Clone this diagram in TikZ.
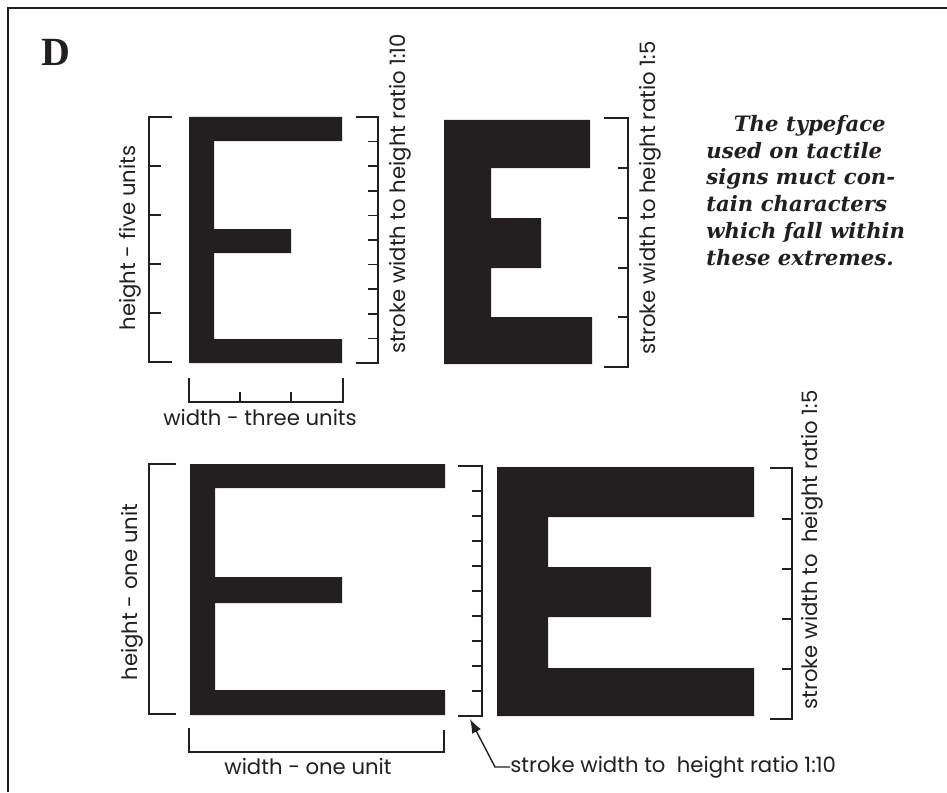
\documentclass[tikz,border=0pt]{standalone}
\usepackage{fontspec}
\usepackage{xcolor}
\usepackage{tikz}
\usetikzlibrary{arrows.meta}
\newfontfamily\labelfont{Poppins}
\newfontfamily\notefont{DejaVu Serif}
\newfontfamily\headfont{Liberation Serif}
\definecolor{ink}{HTML}{231F20}

\begin{document}
\begin{tikzpicture}[
                >={Latex[length=7pt, width=5pt]},
                x=0.5pt, y=-0.5pt, % Pixelraster des Originals
                glyph/.style={fill=ink},
                bracket/.style={draw=ink, line width=0.9pt},
                tick/.style={draw=ink, line width=0.8pt},
                label/.style={font=\labelfont\fontsize{10.6}{12}\selectfont, text=ink, inner sep=0pt},
                vlabel/.style={label, rotate=90},
                note/.style={font=\notefont\bfseries\itshape\fontsize{10.6}{13.35}\selectfont, text=ink, align=left, inner sep=0pt, anchor=north west}
            ]
                \useasboundingbox (0,0) rectangle (947,792);

                % --- RAHMEN ---
                \draw[ink, line width=1pt] (8,792) -- (8,8) -- (947,8);
                \node[font=\headfont\bfseries\fontsize{20}{24}\selectfont, text=ink, inner sep=0pt] (head) at (56,52) {D};

                % --- OBEN LINKS: 1:10, drei Einheiten breit ---
                \fill[glyph] (189,117) -- (342,117) -- (342,141) -- (214,141) -- (214,229) -- (291,229) -- (291,253)
                    -- (214,253) -- (214,339) -- (342,339) -- (342,363) -- (189,363) -- cycle;
                \draw[bracket] (172,117) -- (149,117) -- (149,362) -- (172,362);
                \foreach \y in {166,215,264,313} \draw[tick] (149,\y) -- (161,\y);
                \draw[bracket] (356,117) -- (378,117) -- (378,363) -- (356,363);
                \foreach \k in {1,...,9} \draw[tick] (368,117+\k*24.6) -- (378,117+\k*24.6);
                \draw[bracket] (189,378) -- (189,402) -- (343,402) -- (343,378);
                \foreach \x in {240,291} \draw[tick] (\x,402) -- (\x,392);
                \node[vlabel] (heightfive) at (130,238) {height - five units};
                \node[vlabel] (ratiotenA) at (400,194) {stroke width to height ratio 1:10};
                \node[label] (widththree) at (260,418) {width - three units};

                % --- OBEN RECHTS: 1:5 ---
                \fill[glyph] (444,120) -- (590,120) -- (590,168) -- (491,168) -- (491,218) -- (541,218) -- (541,268)
                    -- (491,268) -- (491,317) -- (592,317) -- (592,364) -- (444,364) -- cycle;
                \draw[bracket] (604,118) -- (628,118) -- (628,367) -- (604,367);
                \foreach \y in {168,218,268,317} \draw[tick] (618,\y) -- (628,\y);
                \node[vlabel] (ratiofiveA) at (650,198) {stroke width to height ratio 1:5};
                \node[note] (note) at (706,115) {\hspace*{1.3em}The typeface\\used on tactile\\signs muct con-\\tain characters\\which fall within\\these extremes.};

                % --- UNTEN LINKS: 1:10, eine Einheit breit ---
                \fill[glyph] (190,464) -- (445,464) -- (445,488) -- (215,488) -- (215,577) -- (342,577) -- (342,603)
                    -- (215,603) -- (215,690) -- (445,690) -- (445,715) -- (190,715) -- cycle;
                \draw[bracket] (176,464) -- (149,464) -- (149,714) -- (176,714);
                \draw[bracket] (189,728) -- (189,752) -- (444,752) -- (444,730);
                \draw[bracket] (458,466) -- (482,466) -- (482,716) -- (458,716);
                \foreach \k in {1,...,9} \draw[tick] (472,466+\k*25) -- (482,466+\k*25);
                \coordinate (corner) at (470,719);
                \node[vlabel] (heightone) at (132,592) {height - one unit};
                \node[label] (widthone) at (308,767) {width - one unit};
                \node[label, anchor=west] (ratiotenB) at (510,767) {stroke width to\ \ height ratio 1:10};
                \draw[->, ink, line width=0.7pt] (ratiotenB.west) -- ++(-15,0) -- (corner);

                % --- UNTEN RECHTS: 1:5 ---
                \fill[glyph] (497,467) -- (754,467) -- (754,517) -- (548,517) -- (548,567) -- (651,567) -- (651,617)
                    -- (548,617) -- (548,668) -- (754,668) -- (754,716) -- (497,716) -- cycle;
                \draw[bracket] (770,468) -- (792,468) -- (792,719) -- (770,719);
                \foreach \y in {519,569,619,669} \draw[tick] (782,\y) -- (792,\y);
                \node[vlabel] (ratiofiveB) at (812,550) {stroke width to\ \ height ratio 1:5};

            \end{tikzpicture}
\end{document}
